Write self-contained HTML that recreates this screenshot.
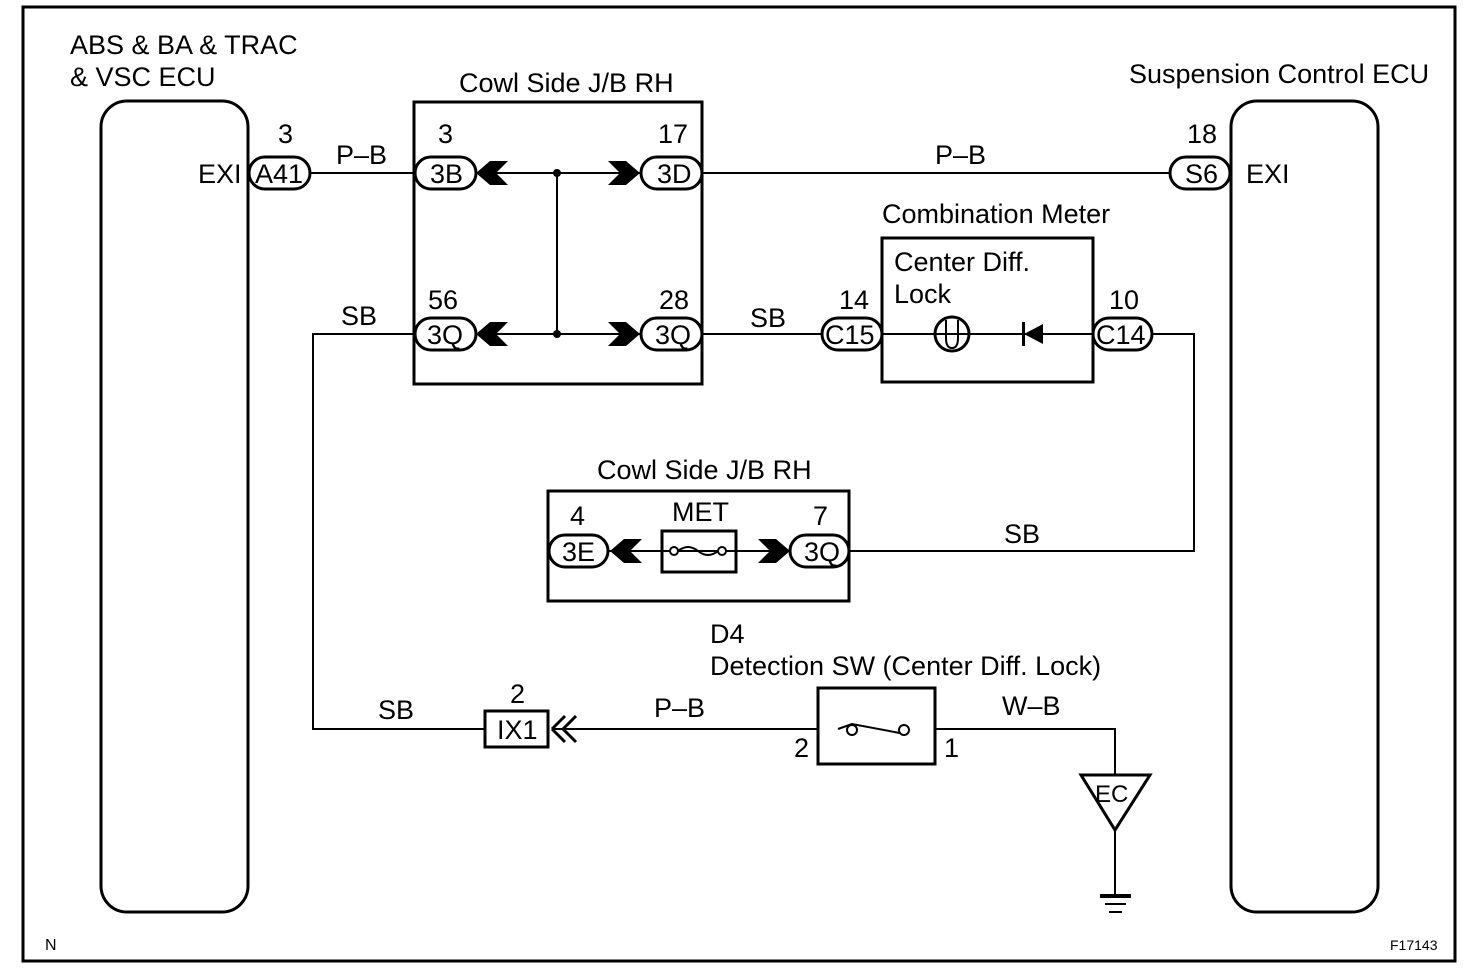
<!DOCTYPE html><html><head><style>body{margin:0;background:#fff}svg{display:block}text{font-family:"Liberation Sans",sans-serif;fill:#000}</style></head><body>
<svg width="1472" height="976" viewBox="0 0 1472 976" xmlns="http://www.w3.org/2000/svg">
<rect x="23" y="7" width="1432" height="954" fill="none" stroke="#000" stroke-width="3"/>
<g fill="none" stroke="#000" stroke-width="3">
<rect x="101" y="101" width="147" height="811" rx="26"/>
<rect x="1231" y="101" width="147" height="811" rx="26"/>
<rect x="414" y="102" width="288" height="282"/>
<rect x="882" y="238" width="211" height="144"/>
<rect x="548" y="491" width="301" height="110"/>
<rect x="818" y="688" width="117" height="76"/>
<rect x="485" y="711" width="63" height="36"/>
<rect x="662" y="531" width="74" height="41"/>
</g>
<g fill="none" stroke="#000" stroke-width="2">
<path d="M310 173H414M702 173H1170M478 173H702M557 173V334M478 334H640M702 334H822M882 334H1092M1152 334H1194V551H850M608 551H790M414 334H313V729H485M552 729H818M935 729H1115V775M1115 830V895"/>
<path d="M1081 775H1150L1115 830Z" stroke-width="3"/>
<path d="M1100 896H1131" stroke-width="4"/><path d="M1105 904H1126M1109 912H1122" stroke-width="2"/>
<circle cx="952" cy="334" r="17" stroke-width="3"/>
<path d="M946 320V338Q946 348 952 348Q958 348 958 338V320" />
<path d="M838 729L852 724L905 734"/>
<circle cx="852" cy="730" r="5" fill="#fff"/><circle cx="904" cy="730" r="5" fill="#fff"/>
<circle cx="674" cy="551" r="4" fill="#fff"/><circle cx="722" cy="551" r="4" fill="#fff"/>
<path d="M678 551Q688 543 698 551Q708 559 718 551"/>
<path d="M552 729L565 716M552 729L565 742M563 729L576 716M563 729L576 742" stroke-width="3"/>
</g>
<g fill="#000">
<circle cx="557" cy="173" r="4"/><circle cx="557" cy="334" r="4"/>
<path d="M476 173L490 161H508L496 173L508 185H490Z"/><path d="M476 334L490 322H508L496 334L508 346H490Z"/>
<path d="M640 173L626 161H608L620 173L608 185H626Z"/><path d="M640 334L626 322H608L620 334L608 346H626Z"/>
<path d="M610 551L624 539H642L630 551L642 563H624Z"/><path d="M790 551L776 539H758L770 551L758 563H776Z"/>
<path d="M1024 334L1043 324V344Z"/><rect x="1022" y="322" width="3" height="24"/>
</g>
<g fill="#fff" stroke="#000" stroke-width="3">
<rect x="249" y="157" width="61" height="32" rx="16"/>
<rect x="1170" y="157" width="60" height="32" rx="16"/>
<rect x="415" y="157" width="61" height="32" rx="16"/>
<rect x="641" y="157" width="61" height="32" rx="16"/>
<rect x="415" y="318" width="61" height="32" rx="16"/>
<rect x="641" y="318" width="61" height="32" rx="16"/>
<rect x="822" y="318" width="60" height="32" rx="16"/>
<rect x="1093" y="318" width="59" height="32" rx="16"/>
<rect x="549" y="535" width="59" height="32" rx="16"/>
<rect x="790" y="535" width="59" height="32" rx="16"/>
</g>
<g font-size="27">
<text x="70" y="54">ABS &amp; BA &amp; TRAC</text><text x="70" y="86">&amp; VSC ECU</text>
<text x="459" y="92">Cowl Side J/B RH</text>
<text x="1129" y="83">Suspension Control ECU</text>
<text x="882" y="223">Combination Meter</text>
<text x="894" y="271">Center Diff.</text><text x="894" y="303">Lock</text>
<text x="597" y="479">Cowl Side J/B RH</text>
<text x="672" y="521">MET</text>
<text x="710" y="643">D4</text>
<text x="710" y="675">Detection SW (Center Diff. Lock)</text>
<text x="198" y="183">EXI</text><text x="1246" y="183">EXI</text>
<text x="255" y="183">A41</text><text x="1185" y="183">S6</text>
<text x="430" y="183">3B</text><text x="657" y="183">3D</text>
<text x="427" y="344">3Q</text><text x="655" y="344">3Q</text>
<text x="825" y="344">C15</text><text x="1096" y="344">C14</text>
<text x="562" y="561">3E</text><text x="804" y="561">3Q</text>
<text x="497" y="739">IX1</text>
<text x="1095" y="802" font-size="24">EC</text>
<text x="278" y="143">3</text><text x="438" y="143">3</text><text x="658" y="143">17</text><text x="1187" y="143">18</text>
<text x="428" y="309">56</text><text x="659" y="309">28</text><text x="839" y="309">14</text><text x="1109" y="309">10</text>
<text x="570" y="525">4</text><text x="813" y="525">7</text><text x="510" y="703">2</text>
<text x="794" y="757">2</text><text x="944" y="757">1</text>
<text x="336" y="164">P–B</text><text x="935" y="164">P–B</text>
<text x="341" y="325">SB</text><text x="750" y="327">SB</text><text x="1004" y="543">SB</text>
<text x="378" y="719">SB</text><text x="654" y="717">P–B</text><text x="1002" y="715">W–B</text>
</g>
<text x="45" y="950" font-size="16">N</text>
<text x="1390" y="950" font-size="14">F17143</text>
</svg></body></html>
